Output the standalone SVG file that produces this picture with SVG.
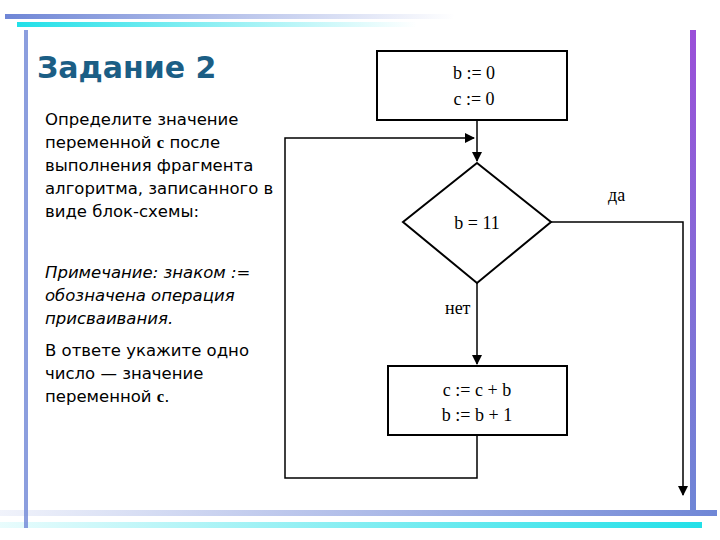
<svg xmlns="http://www.w3.org/2000/svg" width="720" height="540" viewBox="0 0 720 540">
<defs>
<linearGradient id="gb" x1="0" x2="1"><stop offset="0" stop-color="#6f86d6"/><stop offset="1" stop-color="#6f86d6" stop-opacity="0"/></linearGradient>
<linearGradient id="gc" x1="0" x2="1"><stop offset="0" stop-color="#22e0e8"/><stop offset="1" stop-color="#22e0e8" stop-opacity="0"/></linearGradient>
<linearGradient id="gb2" x1="1" x2="0"><stop offset="0" stop-color="#6f86d6"/><stop offset="1" stop-color="#6f86d6" stop-opacity="0.1"/></linearGradient>
<linearGradient id="gc2" x1="1" x2="0"><stop offset="0" stop-color="#22e0e8"/><stop offset="1" stop-color="#22e0e8" stop-opacity="0.1"/></linearGradient>
<linearGradient id="gv" x1="0" y1="0" x2="0" y2="1"><stop offset="0" stop-color="#9a4fd8"/><stop offset="1" stop-color="#6f86d6"/></linearGradient>
<marker id="ah" markerWidth="10" markerHeight="10" refX="9" refY="5" orient="auto" markerUnits="userSpaceOnUse"><path d="M0,0 L10,5 L0,10 Z" fill="#000"/></marker>
<style>
.t{font-family:"DejaVu Sans",Verdana,sans-serif;font-size:16.5px;fill:#000}
.f{font-family:"Liberation Serif","Times New Roman",serif;font-size:18px;fill:#000}
.s{fill:#fff;stroke:#000;stroke-width:2}
.c{fill:none;stroke:#000;stroke-width:1.5}
</style>
</defs>
<rect width="720" height="540" fill="#fff"/>
<rect x="5" y="14" width="450" height="5" fill="url(#gb)"/>
<rect x="17" y="22" width="400" height="5" fill="url(#gc)"/>
<rect x="0" y="510" width="717" height="6" fill="url(#gb2)"/>
<rect x="0" y="522" width="702" height="6" fill="url(#gc2)"/>
<rect x="690" y="30" width="6" height="480" fill="url(#gv)"/>
<rect x="24" y="30" width="4" height="498" fill="#6f86d6" opacity="0.8"/>
<text x="37" y="78" style="font-family:'DejaVu Sans',Verdana,sans-serif;font-size:30px;font-weight:bold;fill:#1b5e85">Задание 2</text>
<text class="t" x="45" y="125">Определите значение</text>
<text class="t" x="45" y="148">переменной <tspan font-weight="bold" font-family="Liberation Serif">c</tspan> после</text>
<text class="t" x="45" y="171">выполнения фрагмента</text>
<text class="t" x="45" y="194">алгоритма, записанного в</text>
<text class="t" x="45" y="217">виде блок-схемы:</text>
<text class="t" x="45" y="278" font-style="italic">Примечание: знаком :=</text>
<text class="t" x="45" y="301" font-style="italic">обозначена операция</text>
<text class="t" x="45" y="324" font-style="italic">присваивания.</text>
<text class="t" x="45" y="356">В ответе укажите одно</text>
<text class="t" x="45" y="379">число — значение</text>
<text class="t" x="45" y="402">переменной <tspan font-weight="bold" font-family="Liberation Serif">c</tspan>.</text>
<g id="connectors">
<path class="c" d="M477,120 V161" marker-end="url(#ah)"/>
<path class="c" d="M551,222 H683 V495" marker-end="url(#ah)"/>
<path class="c" d="M477,283 V364" marker-end="url(#ah)"/>
<path class="c" d="M477,435 V478 H285 V138 H474" marker-end="url(#ah)"/>
<text class="f" x="608" y="201" font-size="15">да</text>
<text class="f" x="445" y="314" font-size="15">нет</text>
</g>
<g id="init"><rect class="s" x="377" y="51" width="190" height="69"/>
<text class="f" x="474" y="79" text-anchor="middle">b := 0</text>
<text class="f" x="474" y="105" text-anchor="middle">c := 0</text></g>
<g id="cond"><polygon class="s" points="477,163 551,222 477,283 403,222"/>
<text class="f" x="477" y="229" text-anchor="middle">b = 11</text></g>
<g id="body"><rect class="s" x="388" y="366" width="179" height="69"/>
<text class="f" x="477" y="396" text-anchor="middle">c := c + b</text>
<text class="f" x="477" y="421" text-anchor="middle">b := b + 1</text></g>
</svg>
